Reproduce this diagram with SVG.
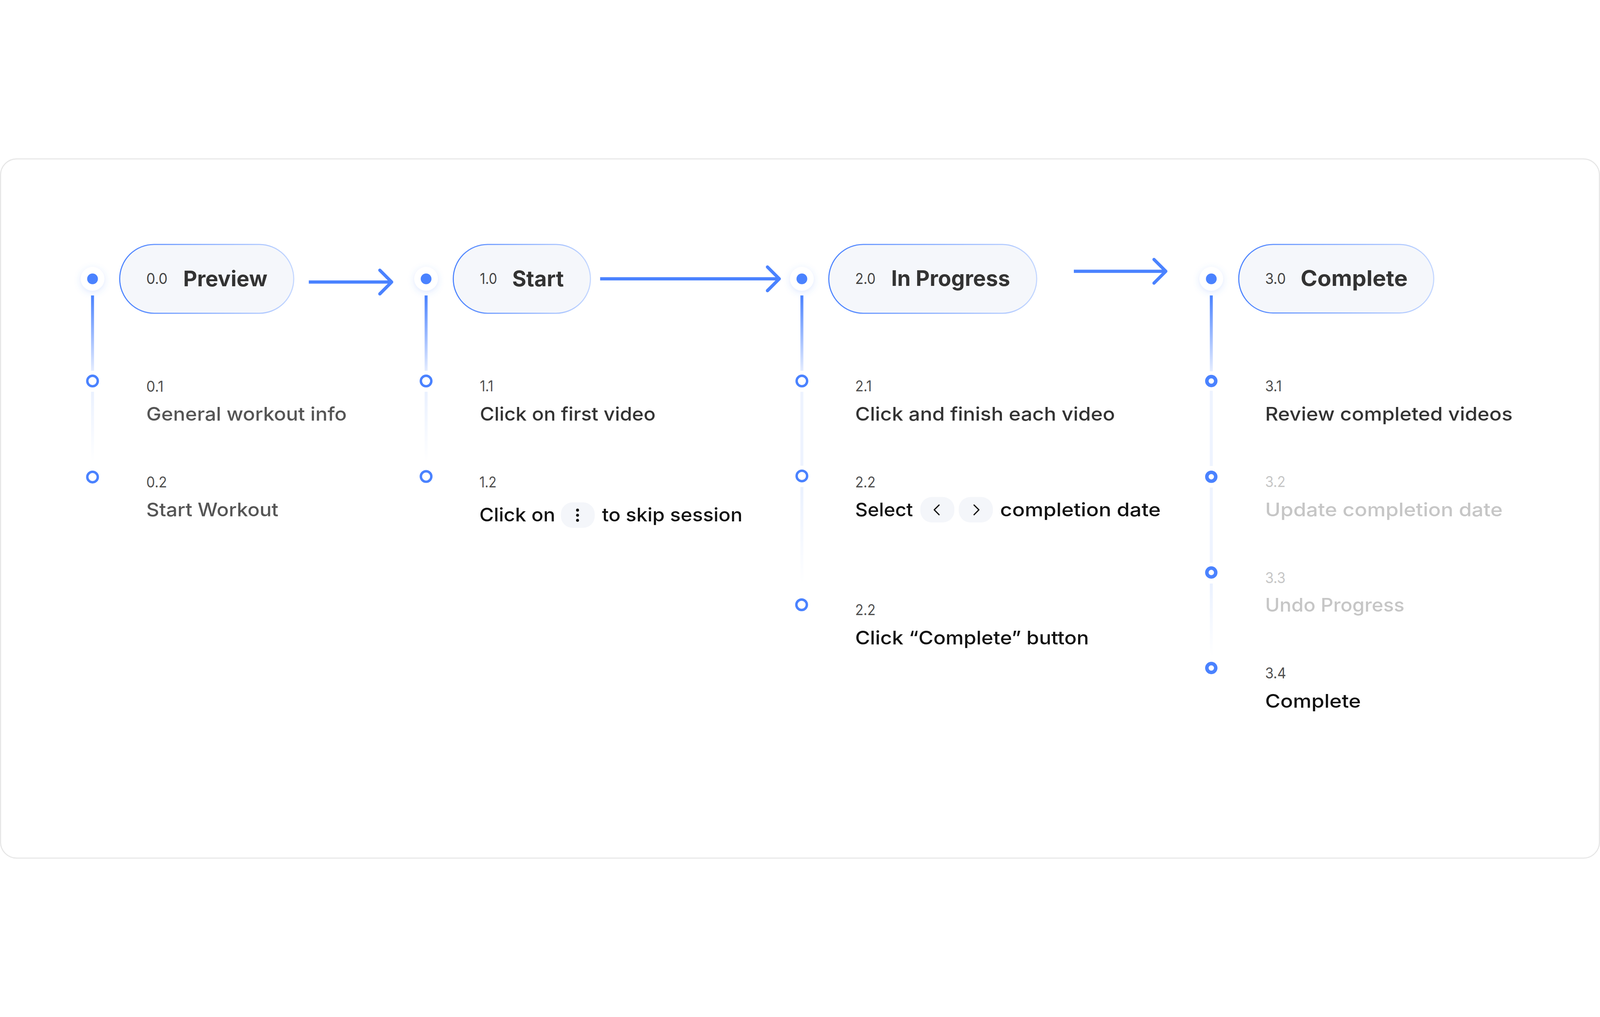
<svg xmlns="http://www.w3.org/2000/svg" width="5948" height="2604" viewBox="0 0 5948 2604" preserveAspectRatio="xMidYMid meet">
<defs>
<linearGradient id="pillStroke" x1="0" y1="0" x2="1" y2="0">
<stop offset="0" stop-color="#4A82FF"/>
<stop offset="1" stop-color="#C4D7FF"/>
</linearGradient>
<linearGradient id="lineTop" x1="0" y1="510" x2="0" y2="790" gradientUnits="userSpaceOnUse">
<stop offset="0" stop-color="#4A82FF"/>
<stop offset="1" stop-color="#E4ECFF"/>
</linearGradient>
<linearGradient id="fadeDown" x1="0" y1="0" x2="0" y2="1">
<stop offset="0" stop-color="#EAF1FF"/>
<stop offset="1" stop-color="#EAF1FF" stop-opacity="0"/>
</linearGradient>
<filter id="glow" x="-100%" y="-100%" width="300%" height="300%">
<feDropShadow dx="0" dy="6" stdDeviation="12" flood-color="#4A82FF" flood-opacity="0.18"/>
</filter>
</defs>
<style>
svg{width:100%;height:100%}
.card{fill:#FFFFFF;stroke:#E6E6E6;stroke-width:4}
.pill{fill:#F5F7FB;stroke:url(#pillStroke);stroke-width:4}
.halo{fill:#FFFFFF;filter:url(#glow)}
.dot{fill:#4A82FF}
.ring{fill:#FFFFFF;stroke:#4A82FF;stroke-width:9}
.ring3{fill:#FFFFFF;stroke:#4A82FF;stroke-width:13}
.vl{stroke-width:11;fill:none}
.shaft{stroke:#4A82FF;stroke-width:12;fill:none}
.head{stroke:#4A82FF;stroke-width:12;fill:none;stroke-linecap:round;stroke-linejoin:round}
.t{font-family:"Inter","Liberation Sans",sans-serif}
.pnum{font-size:56px;fill:#444444;font-weight:400}
.ptitle{font-size:80px;fill:#333333;font-weight:700}
.num{font-size:56px;fill:#505050;font-weight:400}
.body{font-size:70px;font-weight:500}
.c0{fill:#555555}
.c1{fill:#333333}
.c2{fill:#111111}
.dim{fill:#C6C6C6}
.btn{fill:#F4F6FA}
.chev{stroke:#111111;stroke-width:4.5;fill:none;stroke-linecap:round;stroke-linejoin:round}
</style>
<rect class="card" x="2" y="2" width="5944" height="2600" rx="60"/>

<g id="connectors">
<line class="vl" x1="344" y1="510" x2="344" y2="790" stroke="url(#lineTop)"/>
<rect x="338.5" y="868" width="11" height="260" fill="url(#fadeDown)"/>
<line class="vl" x1="1584" y1="510" x2="1584" y2="790" stroke="url(#lineTop)"/>
<rect x="1578.5" y="868" width="11" height="260" fill="url(#fadeDown)"/>
<line class="vl" x1="2981" y1="510" x2="2981" y2="790" stroke="url(#lineTop)"/>
<rect x="2975.5" y="868" width="11" height="275" fill="#EEF3FF"/>
<rect x="2975.5" y="1222" width="11" height="360" fill="url(#fadeDown)"/>
<line class="vl" x1="4503" y1="510" x2="4503" y2="792" stroke="url(#lineTop)"/>
<rect x="4497.5" y="864" width="11" height="280" fill="#EEF3FF"/>
<rect x="4497.5" y="1224" width="11" height="280" fill="#EEF3FF"/>
<rect x="4497.5" y="1581" width="11" height="270" fill="url(#fadeDown)"/>
<line class="shaft" x1="1148" y1="460" x2="1450" y2="460"/>
<polyline class="head" points="1412,416 1456,460 1412,504"/>
<line class="shaft" x1="2231" y1="448" x2="2891" y2="448"/>
<polyline class="head" points="2853,404 2897,448 2853,492"/>
<line class="shaft" x1="3992" y1="420" x2="4328" y2="420"/>
<polyline class="head" points="4290,376 4334,420 4290,464"/>
</g>

<g id="stage-0">
<circle class="halo" cx="344" cy="448" r="44"/>
<circle class="dot" cx="344" cy="448" r="20"/>
<rect class="pill" x="445" y="320" width="647" height="256" rx="128"/>
<text class="t pnum" x="544" y="467" textLength="79" lengthAdjust="spacingAndGlyphs">0.0</text>
<text class="t ptitle" x="681" y="476" textLength="313" lengthAdjust="spacingAndGlyphs">Preview</text>
</g>
<g id="item-0-1">
<circle class="ring" cx="344" cy="828" r="19.5"/>
<text class="t num" x="544" y="868" textLength="64" lengthAdjust="spacingAndGlyphs">0.1</text>
<text class="t body c0" x="544" y="976" textLength="745" lengthAdjust="spacingAndGlyphs">General workout info</text>
</g>
<g id="item-0-2">
<circle class="ring" cx="344" cy="1185" r="19.5"/>
<text class="t num" x="544" y="1223" textLength="77" lengthAdjust="spacingAndGlyphs">0.2</text>
<text class="t body c0" x="544" y="1331" textLength="491" lengthAdjust="spacingAndGlyphs">Start Workout</text>
</g>

<g id="stage-1">
<circle class="halo" cx="1584" cy="448" r="44"/>
<circle class="dot" cx="1584" cy="448" r="20"/>
<rect class="pill" x="1685" y="320" width="510" height="256" rx="128"/>
<text class="t pnum" x="1784" y="467" textLength="64" lengthAdjust="spacingAndGlyphs">1.0</text>
<text class="t ptitle" x="1904" y="476" textLength="192" lengthAdjust="spacingAndGlyphs">Start</text>
</g>
<g id="item-1-1">
<circle class="ring" cx="1584" cy="828" r="19.5"/>
<text class="t num" x="1784" y="867" textLength="50" lengthAdjust="spacingAndGlyphs">1.1</text>
<text class="t body c1" x="1784" y="975" textLength="653" lengthAdjust="spacingAndGlyphs">Click on first video</text>
</g>
<g id="item-1-2">
<circle class="ring" cx="1584" cy="1183" r="19.5"/>
<text class="t num" x="1782" y="1223" textLength="64" lengthAdjust="spacingAndGlyphs">1.2</text>
<text class="t body c2" x="1782" y="1350" textLength="282" lengthAdjust="spacingAndGlyphs">Click on</text>
<rect class="btn" x="2085" y="1279" width="126" height="95" rx="44"/>
<circle cx="2147" cy="1308" r="5.5" fill="#111111"/>
<circle cx="2147" cy="1327" r="5.5" fill="#111111"/>
<circle cx="2147" cy="1346" r="5.5" fill="#111111"/>
<text class="t body c2" x="2238" y="1350" textLength="522" lengthAdjust="spacingAndGlyphs">to skip session</text>
</g>

<g id="stage-2">
<circle class="halo" cx="2981" cy="448" r="44"/>
<circle class="dot" cx="2981" cy="448" r="20"/>
<rect class="pill" x="3081" y="320" width="773" height="256" rx="128"/>
<text class="t pnum" x="3179" y="467" textLength="76" lengthAdjust="spacingAndGlyphs">2.0</text>
<text class="t ptitle" x="3313" y="475" textLength="442" lengthAdjust="spacingAndGlyphs">In Progress</text>
</g>
<g id="item-2-1">
<circle class="ring" cx="2981" cy="828" r="19.5"/>
<text class="t num" x="3179" y="867" textLength="62" lengthAdjust="spacingAndGlyphs">2.1</text>
<text class="t body c1" x="3179" y="975" textLength="966" lengthAdjust="spacingAndGlyphs">Click and finish each video</text>
</g>
<g id="item-2-2">
<circle class="ring" cx="2981" cy="1181" r="19.5"/>
<text class="t num" x="3179" y="1223" textLength="76" lengthAdjust="spacingAndGlyphs">2.2</text>
<text class="t body c2" x="3179" y="1331" textLength="215" lengthAdjust="spacingAndGlyphs">Select</text>
<rect class="btn" x="3421" y="1259" width="127" height="95" rx="44"/>
<polyline class="chev" points="3491,1289 3473,1307 3491,1325"/>
<rect class="btn" x="3564" y="1259" width="127" height="95" rx="44"/>
<polyline class="chev" points="3621,1289 3639,1307 3621,1325"/>
<text class="t body c2" x="3718" y="1331" textLength="597" lengthAdjust="spacingAndGlyphs">completion date</text>
</g>
<g id="item-2-3">
<circle class="ring" cx="2980" cy="1660" r="19.5"/>
<text class="t num" x="3179" y="1699" textLength="76" lengthAdjust="spacingAndGlyphs">2.2</text>
<text class="t body c2" x="3179" y="1807" textLength="869" lengthAdjust="spacingAndGlyphs">Click “Complete” button</text>
</g>

<g id="stage-3">
<circle class="halo" cx="4503" cy="448" r="44"/>
<circle class="dot" cx="4503" cy="448" r="20"/>
<rect class="pill" x="4605" y="320" width="725" height="255" rx="127.5"/>
<text class="t pnum" x="4703" y="467" textLength="77" lengthAdjust="spacingAndGlyphs">3.0</text>
<text class="t ptitle" x="4835" y="475" textLength="398" lengthAdjust="spacingAndGlyphs">Complete</text>
</g>
<g id="item-3-1">
<circle class="ring3" cx="4503" cy="828" r="16.5"/>
<text class="t num" x="4703" y="867" textLength="62" lengthAdjust="spacingAndGlyphs">3.1</text>
<text class="t body c1" x="4703" y="975" textLength="920" lengthAdjust="spacingAndGlyphs">Review completed videos</text>
</g>
<g id="item-3-2">
<circle class="ring3" cx="4503" cy="1184" r="16.5"/>
<text class="t num dim" x="4703" y="1222" textLength="76" lengthAdjust="spacingAndGlyphs">3.2</text>
<text class="t body dim" x="4703" y="1331" textLength="883" lengthAdjust="spacingAndGlyphs">Update completion date</text>
</g>
<g id="item-3-3">
<circle class="ring3" cx="4503" cy="1540" r="16.5"/>
<text class="t num dim" x="4703" y="1579" textLength="76" lengthAdjust="spacingAndGlyphs">3.3</text>
<text class="t body dim" x="4703" y="1686" textLength="518" lengthAdjust="spacingAndGlyphs">Undo Progress</text>
</g>
<g id="item-3-4">
<circle class="ring3" cx="4503" cy="1895" r="16.5"/>
<text class="t num" x="4703" y="1934" textLength="78" lengthAdjust="spacingAndGlyphs">3.4</text>
<text class="t body c2" x="4703" y="2042" textLength="356" lengthAdjust="spacingAndGlyphs" font-weight="600">Complete</text>
</g>
</svg>
